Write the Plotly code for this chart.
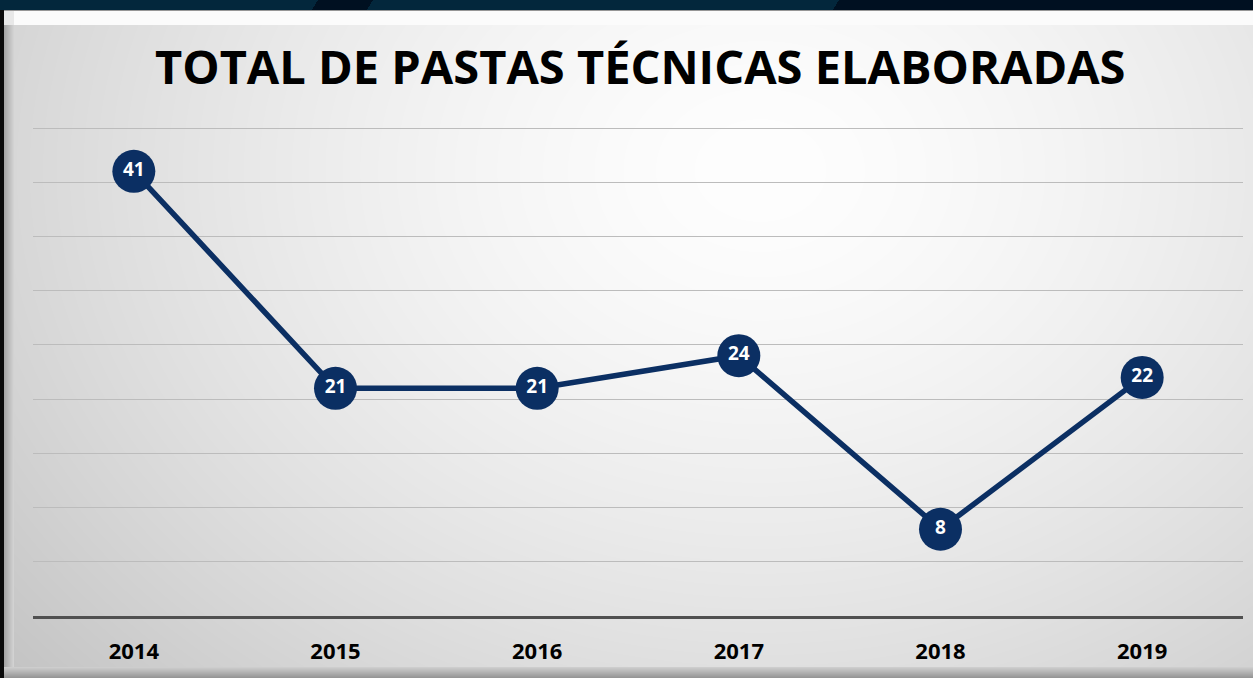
import base64, struct, zlib
import numpy as np
import plotly.graph_objects as go

# ---------------- data ----------------
years = ["2014", "2015", "2016", "2017", "2018", "2019"]
totals = [41, 21, 21, 24, 8, 22]
title_text = "TOTAL DE PASTAS TÉCNICAS ELABORADAS"

W, H = 1253, 678

# ---------------- background picture (styling only) ----------------
def make_background():
    yy, xx = np.mgrid[0:H, 0:W].astype(float)
    d = np.sqrt(((xx - 760) / 820) ** 2 + ((yy - 170) / 640) ** 2)
    v = 254 - 44 * np.clip(d, 0, 1.3) ** 1.5
    img = np.stack([v, v, v], axis=-1)
    # left bevel
    for i in range(4, 14):
        t = (i - 4) / 10
        img[10:H, i, :] = (165 + 50 * t)
    # top bevel highlight
    for j in range(11, 25):
        img[j, 14:, :] = 251
    for j in range(11, 25):
        img[j, 4:14, :] = 232
    # bottom bevel
    for j in range(667, H):
        t = (j - 667) / (H - 667)
        img[j, 4:, :] = 205 - 60 * t
    # thin line under top bar
    img[10, :, :] = 150
    # left black border
    img[:, 0:4, :] = 10
    # top dark bar
    teal = np.array([3, 39, 60])
    dark = np.array([0, 16, 33])
    img[0:10, :, :] = teal
    for j in range(0, 10):
        s = (10 - j) * 0.6
        img[j, int(312 + s):int(367 + s), :] = dark
        img[j, int(833 + s):, :] = dark
    img = np.clip(img, 0, 255).astype(np.uint8)
    raw = b"".join(b"\x00" + img[r].tobytes() for r in range(H))
    def chunk(tag, data):
        c = struct.pack(">I", len(data)) + tag + data
        return c + struct.pack(">I", zlib.crc32(tag + data) & 0xFFFFFFFF)
    png = b"\x89PNG\r\n\x1a\n"
    png += chunk(b"IHDR", struct.pack(">IIBBBBB", W, H, 8, 2, 0, 0, 0))
    png += chunk(b"IDAT", zlib.compress(raw, 9))
    png += chunk(b"IEND", b"")
    return "data:image/png;base64," + base64.b64encode(png).decode()

bg = make_background()

navy = "#0b2f63"

fig = go.Figure()
fig.add_trace(go.Scatter(
    x=years, y=totals,
    mode="lines+markers+text",
    line=dict(color=navy, width=5.5),
    marker=dict(color=navy, size=43),
    text=[str(v) for v in totals],
    textposition="middle center",
    textfont=dict(family="Open Sans", size=19, color="white", weight="bold"),
    hoverinfo="skip",
))

fig.add_annotation(
    text="<b>" + title_text + "</b>",
    x=640 / W, y=1 - 66 / H, xref="paper", yref="paper",
    xanchor="center", yanchor="middle", showarrow=False,
    font=dict(family="Open Sans", size=47, color="black"),
)

ppu = (616 - 128) / 45.0
ytop = 45.6
fig.update_layout(
    width=W, height=H,
    margin=dict(l=0, r=0, t=0, b=0),
    paper_bgcolor="rgba(0,0,0,0)",
    plot_bgcolor="rgba(0,0,0,0)",
    showlegend=False,
    images=[dict(source=bg, xref="paper", yref="paper", x=0, y=1,
                 sizex=1, sizey=1, xanchor="left", yanchor="top",
                 sizing="stretch", layer="below")],
    xaxis=dict(domain=[33 / W, 1243 / W], type="category",
               range=[-0.5, 5.5], showgrid=False, zeroline=False,
               showline=True, linecolor="#505050", linewidth=3,
               ticks="", ticklabelstandoff=14,
               tickfont=dict(family="Open Sans", size=22, color="black", weight="bold")),
    yaxis=dict(domain=[(H - 616) / H, (H - (616 - ytop * ppu)) / H], range=[0, ytop], dtick=5,
               showgrid=True, gridcolor="#bcbcbc", gridwidth=1,
               zeroline=False, showline=False, showticklabels=False, ticks=""),
)

fig.write_html("out.html", config={"displayModeBar": False},
               post_script="document.body.style.margin='0';")
